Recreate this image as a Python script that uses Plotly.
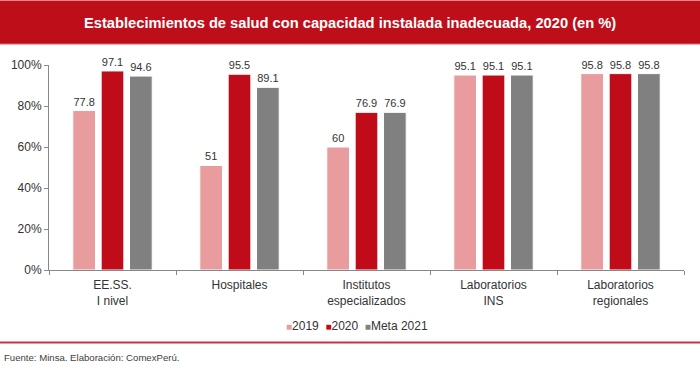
import plotly.graph_objects as go

categories = ["EE.SS.<br>I nivel", "Hospitales", "Institutos<br>especializados",
              "Laboratorios<br>INS", "Laboratorios<br>regionales"]
series_names = ["2019", "2020", "Meta 2021"]
values_2019 = [77.8, 51, 60, 95.1, 95.8]
values_2020 = [97.1, 95.5, 76.9, 95.1, 95.8]
values_meta = [94.6, 89.1, 76.9, 95.1, 95.8]
y_ticks = [0, 20, 40, 60, 80, 100]
y_tick_labels = ["0%", "20%", "40%", "60%", "80%", "100%"]

colors = ["#E89C9E", "#C00B19", "#808080"]
FONT = "Arial, Liberation Sans, sans-serif"

fig = go.Figure()
for name, vals, col in zip(series_names, [values_2019, values_2020, values_meta], colors):
    fig.add_trace(go.Bar(
        x=categories, y=vals, name=name,
        marker=dict(color=col, line=dict(color="white", width=1)),
        text=[f"{v:g}" for v in vals], textposition="outside",
        textfont=dict(size=11, color="#333333", family=FONT),
        cliponaxis=False, hoverinfo="skip",
    ))

# plot area in page px: x 49..684, y 65..270
W, H = 700, 371
L, R, T, B = 49, 700 - 684, 65, 371 - 270
pw, ph = W - L - R, H - T - B
def px(x):
    return (x - L) / pw
def py(y):
    return (T + ph - y) / ph

legend_text = "  ".join(
    f'<span style="color:{c};font-size:10px">■</span>{n}' for n, c in zip(series_names, colors)
)

fig.update_layout(
    template="none",
    width=W, height=H,
    margin=dict(l=L, r=R, t=T, b=B, autoexpand=False),
    paper_bgcolor="white", plot_bgcolor="white",
    font=dict(family=FONT, color="#333333", size=12),
    barmode="group", bargap=0.33, bargroupgap=0.2,
    showlegend=False,
    xaxis=dict(showline=True, linecolor="#888888", linewidth=1, ticks="outside",
               tickson="boundaries", ticklen=4, tickcolor="#888888", automargin=False,
               ticklabelstandoff=4,
               tickfont=dict(size=12, color="#333333"), showgrid=False),
    yaxis=dict(range=[0, 100], tickvals=y_ticks, ticktext=y_tick_labels, automargin=False,
               showline=True, linecolor="#888888", linewidth=1, ticks="outside",
               ticklen=4, tickcolor="#888888", showgrid=False, zeroline=False,
               tickfont=dict(size=12, color="#333333")),
    shapes=[
        dict(type="rect", xref="paper", yref="paper", x0=px(0), x1=px(700),
             y0=py(44), y1=py(0.5), fillcolor="#BE0E19", line=dict(width=0), layer="below"),
        dict(type="line", xref="paper", yref="paper", x0=px(0), x1=px(700),
             y0=py(44), y1=py(44), line=dict(color="#D9646C", width=1)),
        dict(type="line", xref="paper", yref="paper", x0=px(0), x1=px(700),
             y0=py(342.5), y1=py(342.5), line=dict(color="#D0303E", width=2)),
    ],
    annotations=[
        dict(text="<b>Establecimientos de salud con capacidad instalada inadecuada, 2020 (en %)</b>",
             xref="paper", yref="paper", x=px(350), y=py(22.5), xanchor="center", yanchor="middle",
             showarrow=False, font=dict(size=14.7, color="white", family=FONT)),
        dict(text=legend_text,
             xref="paper", yref="paper", x=px(357), y=py(326), xanchor="center", yanchor="middle",
             showarrow=False, font=dict(size=12, color="#333333", family=FONT)),
        dict(text="Fuente: Minsa. Elaboración: ComexPerú.",
             xref="paper", yref="paper", x=px(2), y=py(357), xanchor="left", yanchor="middle",
             showarrow=False, font=dict(size=9.6, color="#404040", family=FONT)),
    ],
)

fig.write_html("out.html", config={"displayModeBar": False, "staticPlot": True},
               post_script="document.body.style.margin='0';document.body.style.overflow='hidden';")
